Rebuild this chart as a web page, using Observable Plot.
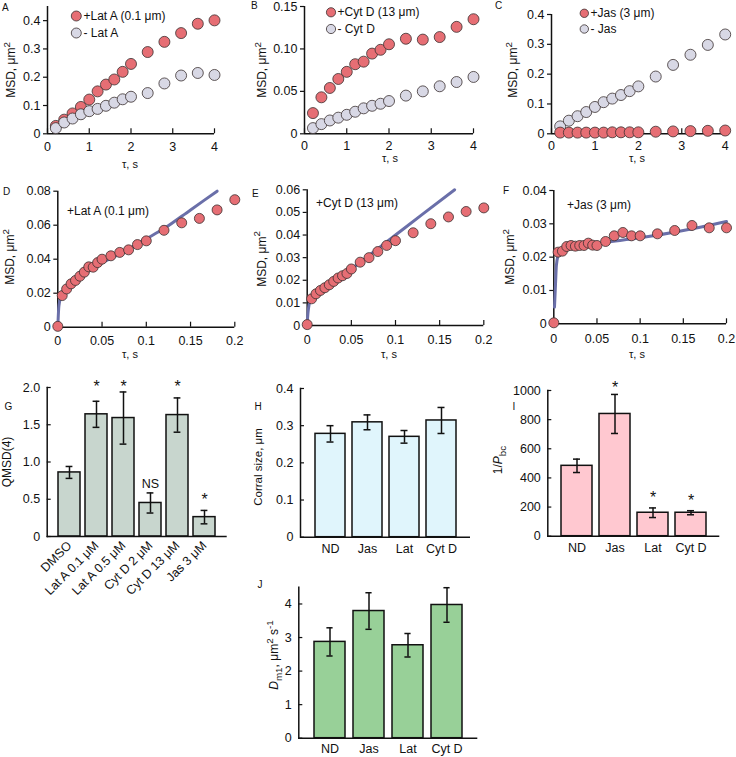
<!DOCTYPE html>
<html><head><meta charset="utf-8">
<script src="https://cdn.jsdelivr.net/npm/d3@7"></script>
<script src="https://cdn.jsdelivr.net/npm/@observablehq/plot@0.6"></script>
<style>
body{margin:0;background:#fff;}
#fig{position:relative;width:736px;height:757px;font-family:"Liberation Sans",Arial,sans-serif;}
</style></head><body><div id="fig"></div>
<script>
// ---------------- data ----------------
const tauLong = [0.2,0.4,0.6,0.8,1.0,1.2,1.4,1.6,1.8,2.0,2.4,2.8,3.2,3.6,4.0];
const msdLatA     = [0.028,0.050,0.072,0.095,0.121,0.150,0.174,0.192,0.219,0.247,0.289,0.325,0.356,0.389,0.401];
const msdCtrlLatA = [0.020,0.040,0.054,0.069,0.080,0.088,0.099,0.110,0.122,0.131,0.144,0.178,0.206,0.215,0.208];
const msdCytD     = [0.0244,0.043,0.054,0.0646,0.073,0.082,0.085,0.0945,0.099,0.1055,0.112,0.111,0.114,0.126,0.135];
const msdCtrlCytD = [0.0067,0.0114,0.0157,0.019,0.0224,0.026,0.030,0.033,0.0354,0.0386,0.045,0.050,0.056,0.061,0.067];
const msdJas      = [0.004,0.004,0.004,0.004,0.004,0.004,0.005,0.005,0.005,0.005,0.007,0.008,0.009,0.010,0.011];
const msdCtrlJas  = [0.025,0.044,0.059,0.073,0.090,0.106,0.118,0.130,0.143,0.159,0.192,0.231,0.265,0.298,0.333];

const tauShort = [0,0.005,0.01,0.015,0.02,0.025,0.03,0.035,0.04,0.045,0.05,0.06,0.07,0.08,0.09,0.1,0.12,0.14,0.16,0.18,0.2];
const msdShortLatA = [0.0005,0.0186,0.0225,0.0255,0.0275,0.030,0.0324,0.0355,0.0353,0.038,0.040,0.042,0.044,0.0455,0.0486,0.0508,0.057,0.0614,0.064,0.069,0.075];
const msdShortCytD = [0.0004,0.0118,0.014,0.0155,0.0167,0.018,0.0195,0.021,0.022,0.023,0.025,0.028,0.030,0.0327,0.0354,0.0375,0.041,0.045,0.048,0.0504,0.052];
const msdShortJas  = [0.0003,0.0215,0.0218,0.0232,0.0235,0.0233,0.0235,0.0235,0.0242,0.0236,0.0235,0.0247,0.0264,0.0274,0.0264,0.0264,0.027,0.028,0.0295,0.0288,0.0288];

const fitLatATau = [0,0.001,0.002,0.004,0.006,0.01,0.015,0.02,0.03,0.04,0.05,0.06,0.08,0.1,0.12,0.15,0.18];
const fitLatAMsd = [0,0.011,0.015,0.019,0.021,0.024,0.026,0.028,0.032,0.035,0.038,0.0405,0.046,0.052,0.058,0.069,0.080];
const fitCytDTau = [0,0.001,0.002,0.004,0.007,0.01,0.02,0.03,0.04,0.05,0.07,0.1,0.13,0.167];
const fitCytDMsd = [0.001,0.006,0.009,0.0115,0.013,0.0143,0.0172,0.0198,0.0225,0.025,0.031,0.040,0.049,0.060];
const fitJasTau  = [0.0008,0.002,0.003,0.005,0.008,0.012,0.02,0.04,0.06,0.1,0.15,0.2];
const fitJasMsd  = [0.005,0.012,0.0175,0.0205,0.0218,0.0225,0.0232,0.0238,0.0245,0.0258,0.028,0.0307];

const gCats = ["DMSO","Lat A 0.1 μM","Lat A 0.5 μM","Cyt D 2 μM","Cyt D 13 μM","Jas 3 μM"];
const gMean = [0.86,1.64,1.59,0.45,1.63,0.26];
const gErr  = [0.08,0.175,0.35,0.135,0.23,0.09];
const gSig  = ["","*","*","NS","*","*"];
const hCats = ["ND","Jas","Lat","Cyt D"];
const hMean = [0.278,0.309,0.270,0.314];
const hErr  = [0.022,0.020,0.017,0.035];
const iMean = [483,839,161,161];
const iErr  = [46,134,33,14];
const iSig  = ["","*","*","*"];
const jMean = [2.87,3.79,2.77,3.97];
const jErr  = [0.42,0.545,0.35,0.515];

// tick values and labels
const tLongX = [0,1,2,3,4], tLongXL = ["0","1","2","3","4"];
const tShortX = [0,0.05,0.1,0.15,0.2], tShortXL = ["0","0.05","0.1","0.15","0.2"];
const tA = [0,0.1,0.2,0.3,0.4], tAL = ["0","0.1","0.2","0.3","0.4"];
const tB = [0,0.05,0.1,0.15], tBL = ["0","0.05","0.10","0.15"];
const tD = [0,0.02,0.04,0.06,0.08], tDL = ["0","0.02","0.04","0.06","0.08"];
const tE = [0,0.01,0.02,0.03,0.04,0.05,0.06], tEL = ["0","0.01","0.02","0.03","0.04","0.05","0.06"];
const tF = [0,0.01,0.02,0.03,0.04], tFL = ["0","0.01","0.02","0.03","0.04"];
const tG = [0,0.5,1,1.5,2], tGL = ["0","0.5","1.0","1.5","2.0"];
const tH = [0,0.1,0.2,0.3,0.4], tHL = ["0","0.1","0.2","0.3","0.4"];
const tI = [0,200,400,600,800,1000], tIL = ["0","200","400","600","800","1000"];
const tJ = [0,1,2,3,4], tJL = ["0","1","2","3","4"];

// ---------------- drawing ----------------
const W = 736, H = 757, INK = "#111";
const RED = "#e66e74", GREY = "#d8d8e5", FIT = "#6a6fa9", DOTSTROKE = "#3a3030";
const FS = 12.5;
const fig = document.getElementById("fig");
const baseStyle = {position:"absolute", left:"0px", top:"0px", background:"transparent", overflow:"visible",
  fontFamily:'"Liberation Sans", Arial, sans-serif', fontSize:FS+"px", color:INK};
const place = f => ({width:W, height:H, marginLeft:f[0], marginRight:W-f[1], marginTop:f[2], marginBottom:H-f[3]});
const fmt = (ticks, labels) => d => labels[ticks.findIndex(t => Math.abs(t-d) < 1e-9)];
const pts = (xs, ys) => xs.map((x,i) => ({x, y:ys[i]}));

function scatter(p) {
  const marks = [
    Plot.ruleY([p.yDomain[0]], {stroke:INK, strokeWidth:1.5}),
    Plot.ruleX([p.xDomain[0]], {stroke:INK, strokeWidth:1.5}),
    Plot.axisY({ticks:p.yTicks, tickFormat:fmt(p.yTicks,p.yLabels), tickSize:4, tickPadding:3, label:null, strokeWidth:1.2, fontSize:FS}),
    Plot.axisX({ticks:p.xTicks, tickFormat:fmt(p.xTicks,p.xLabels), tickSize:5, dy:-5, tickPadding:p.xPad, label:null, strokeWidth:1.2, fontSize:FS})
  ];
  if (p.fit) marks.push(Plot.line(p.fit, {x:"x", y:"y", stroke:FIT, strokeWidth:3, curve:"monotone-x"}));
  for (const s of p.series) marks.push(Plot.dot(s.data, {x:"x", y:"y", r:p.r, fill:s.fill, stroke:DOTSTROKE, strokeWidth:0.8}));
  fig.appendChild(Plot.plot({...place(p.frame), style:baseStyle, x:{domain:p.xDomain}, y:{domain:p.yDomain}, marks}));
}

function bars(p) {
  const data = p.cats.map((c,i) => ({c, v:p.mean[i], e:p.err[i], s:p.sig ? p.sig[i] : ""}));
  const high = d => d.v + d.e > 0.85*p.yDomain[1];
  const marks = [
    Plot.barY(data, {x:"c", y:"v", fill:p.fill, stroke:INK, strokeWidth:1.5}),
    Plot.ruleX(data, {x:"c", y1:d=>d.v-d.e, y2:d=>d.v+d.e, stroke:INK, strokeWidth:1.5}),
    Plot.tickY(data, {x:"c", y:d=>d.v+d.e, stroke:INK, strokeWidth:1.5, inset:p.capInset}),
    Plot.tickY(data, {x:"c", y:d=>d.v-d.e, stroke:INK, strokeWidth:1.5, inset:p.capInset}),
    Plot.ruleY([0], {stroke:INK, strokeWidth:1.5}),
    Plot.frame({anchor:"left", stroke:INK, strokeWidth:1.5}),
    Plot.axisY({ticks:p.yTicks, tickFormat:fmt(p.yTicks,p.yLabels), tickSize:4, dx:4, tickPadding:7, label:null, strokeWidth:1.2, fontSize:FS}),
    Plot.axisX({tickSize:0, tickPadding:p.xPad, tickRotate:p.rot || 0, label:null, fontSize:p.xFs || FS}),
    Plot.text(data.filter(d => d.s && !high(d)), {x:"c", y:d=>d.v+d.e, text:"s", lineAnchor:"bottom", dy:-5,
      fontSize:d => d.s === "*" ? 16 : 12.5}),
    Plot.text(data.filter(d => d.s && high(d)), {x:"c", frameAnchor:"top", text:"s", lineAnchor:"bottom", dy:p.topDy,
      fontSize:d => d.s === "*" ? 16 : 12.5})
  ];
  fig.appendChild(Plot.plot({...place(p.frame), style:baseStyle,
    x:{domain:p.cats, paddingInner:p.pi, paddingOuter:p.po}, y:{domain:p.yDomain}, marks}));
}

scatter({frame:[47,214,6,133.3], xDomain:[0,4], yDomain:[0,0.45], xTicks:tLongX, xLabels:tLongXL, yTicks:tA, yLabels:tAL, xPad:8, r:5.5,
  series:[{data:pts(tauLong,msdLatA), fill:RED},{data:pts(tauLong,msdCtrlLatA), fill:GREY}]});
scatter({frame:[304,473,6,133.3], xDomain:[0,4], yDomain:[0,0.15], xTicks:tLongX, xLabels:tLongXL, yTicks:tB, yLabels:tBL, xPad:7, r:5.5,
  series:[{data:pts(tauLong,msdCytD), fill:RED},{data:pts(tauLong,msdCtrlCytD), fill:GREY}]});
scatter({frame:[551,724.7,14,133.3], xDomain:[0,4], yDomain:[0,0.4], xTicks:tLongX, xLabels:tLongXL, yTicks:tA, yLabels:tAL, xPad:7, r:5.5,
  series:[{data:pts(tauLong,msdCtrlJas), fill:GREY},{data:pts(tauLong,msdJas), fill:RED}]});
scatter({frame:[57.3,234.3,190.7,326.7], xDomain:[0,0.2], yDomain:[0,0.08], xTicks:tShortX, xLabels:tShortXL, yTicks:tD, yLabels:tDL, xPad:9, r:5,
  fit:pts(fitLatATau,fitLatAMsd), series:[{data:pts(tauShort,msdShortLatA), fill:RED}]});
scatter({frame:[306.7,483.3,189.3,325], xDomain:[0,0.2], yDomain:[0,0.06], xTicks:tShortX, xLabels:tShortXL, yTicks:tE, yLabels:tEL, xPad:10, r:5,
  fit:pts(fitCytDTau,fitCytDMsd), series:[{data:pts(tauShort,msdShortCytD), fill:RED}]});
scatter({frame:[553.3,726,190,323.3], xDomain:[0,0.2], yDomain:[0,0.04], xTicks:tShortX, xLabels:tShortXL, yTicks:tF, yLabels:tFL, xPad:10, r:5,
  fit:pts(fitJasTau,fitJasMsd), series:[{data:pts(tauShort,msdShortJas), fill:RED}]});

bars({frame:[46.7,226.7,387,536], cats:gCats, mean:gMean, err:gErr, sig:gSig, fill:"#c8d6ce", yDomain:[0,2], yTicks:tG, yLabels:tGL,
  pi:0.19, po:0.345, capInset:7.6, xPad:7, rot:-45, xFs:12.5, topDy:4});
bars({frame:[300,470,388,536.7], cats:hCats, mean:hMean, err:hErr, fill:"#e0f5fc", yDomain:[0,0.4], yTicks:tH, yLabels:tHL,
  pi:0.2, po:0.34, capInset:11.5, xPad:7, topDy:2});
bars({frame:[547.3,719.3,390,535.7], cats:hCats, mean:iMean, err:iErr, sig:iSig, fill:"#ffc8d0", yDomain:[0,1000], yTicks:tI, yLabels:tIL,
  pi:0.195, po:0.33, capInset:12, xPad:7, topDy:2});
bars({frame:[298.3,477.3,586.7,737.7], cats:hCats, mean:jMean, err:jErr, fill:"#98d098", yDomain:[0,4.5], yTicks:tJ, yLabels:tJL,
  pi:0.2, po:0.35, capInset:12.4, xPad:6, topDy:2});

// ---------------- text annotations ----------------
const ann = d3.select(fig).append("svg").attr("width",W).attr("height",H)
  .style("position","absolute").style("left","0px").style("top","0px").style("overflow","visible")
  .attr("font-family",'"Liberation Sans", Arial, sans-serif').attr("fill",INK);

function txt(x, y, s, size=12, anchor="start") {
  ann.append("text").attr("x",x).attr("y",y).attr("font-size",size).attr("text-anchor",anchor)
    .attr("dominant-baseline","central").text(s);
}
function rich(x, y, parts, size=12, rotate=-90) {
  const t = ann.append("text").attr("transform",`translate(${x},${y}) rotate(${rotate})`)
    .attr("text-anchor","middle").attr("dominant-baseline","central").attr("font-size",size);
  let shift = 0;
  for (const p of parts) {
    const ts = t.append("tspan").text(p.t);
    const target = p.sup ? -0.42*size : p.sub ? 0.32*size : 0;
    if (target !== shift) { ts.attr("dy", target - shift); shift = target; }
    if (p.sup || p.sub) ts.attr("font-size", size*0.82);
    if (p.it) ts.attr("font-style","italic");
  }
}
function legendDot(x, y, r, fill) {
  ann.append("circle").attr("cx",x).attr("cy",y).attr("r",r).attr("fill",fill).attr("stroke",DOTSTROKE).attr("stroke-width",0.8);
}

// panel letters
[["A",2,7],["B",251,5],["C",495,5],["D",3,191],["E",252,193],["F",503,190],["G",4.5,406],["H",254.5,406],["I",512.5,406],["J",257.5,584]]
  .forEach(([s,x,y]) => txt(x,y,s,10));

// legends
legendDot(76.3,16,5,RED); txt(83.5,16,"+Lat A (0.1 μm)");
legendDot(76.3,33,5,GREY); txt(83.5,33,"- Lat A");
legendDot(331,12.3,4.6,RED); txt(337.5,12.3,"+Cyt D (13 μm)");
legendDot(331,29,4.6,GREY); txt(337.5,29,"- Cyt D");
legendDot(584.3,13.3,4.2,RED); txt(590.5,13.3,"+Jas (3 μm)");
legendDot(584.3,29,4.2,GREY); txt(590.5,29,"- Jas");
txt(67,211,"+Lat A (0.1 μm)");
txt(316,203,"+Cyt D (13 μm)");
txt(567,205,"+Jas (3 μm)");

// tau labels
[[130,164],[390,157.5],[637,157.5],[130,354],[389,354],[637,354]].forEach(([x,y]) => txt(x,y,"τ, s",11,"middle"));

// y labels
const msd = [{t:"MSD, μm"},{t:"2",sup:true}];
rich(11,70,msd); rich(262,70,msd); rich(513,70,msd);
rich(10,257,msd); rich(261.5,259,msd); rich(510,257,msd);
rich(7,462,[{t:"QMSD(4)"}]);
rich(258,467,[{t:"Corral size, μm"}],11.5);
rich(498,460,[{t:"1/"},{t:"P",it:true},{t:"bc",sub:true}]);
rich(274,655,[{t:"D",it:true},{t:"m1",sub:true},{t:", μm"},{t:"2",sup:true},{t:" s"},{t:"-1",sup:true}]);
</script></body></html>
